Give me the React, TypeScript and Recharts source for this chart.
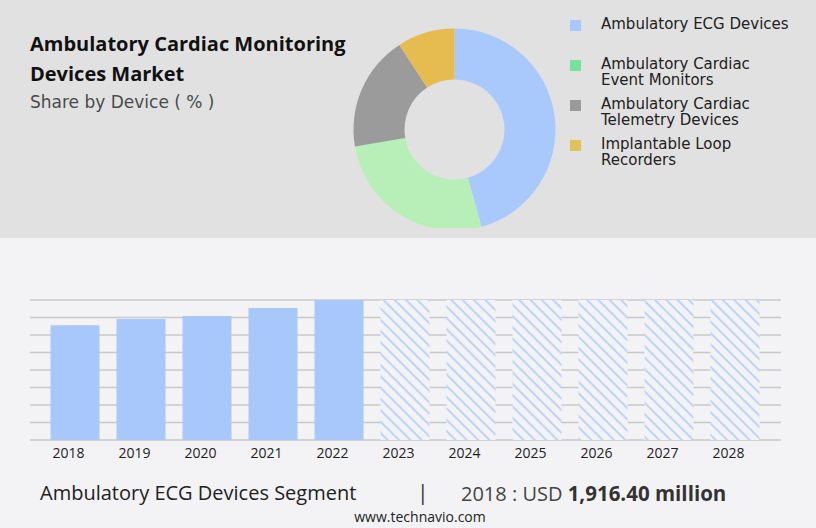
import { BarChart, Bar, XAxis, YAxis, CartesianGrid, PieChart, Pie, Cell } from "recharts";

const devices = [
  "Ambulatory ECG Devices",
  "Ambulatory Cardiac Event Monitors",
  "Ambulatory Cardiac Telemetry Devices",
  "Implantable Loop Recorders",
];
const legendLines = [
  ["Ambulatory ECG Devices"],
  ["Ambulatory Cardiac", "Event Monitors"],
  ["Ambulatory Cardiac", "Telemetry Devices"],
  ["Implantable Loop", "Recorders"],
];
const shares = [45.7, 26.6, 18.5, 9.2];
const sliceColors = ["#a9c9fd", "#b8efb9", "#9b9b9b", "#e6bc50"];
const legendColors = ["#a8c8fc", "#77e39a", "#9a9a9a", "#dfc35a"];

const years = ["2018", "2019", "2020", "2021", "2022", "2023", "2024", "2025", "2026", "2027", "2028"];
const actual = [1916.4, 2019, 2069, 2203, 2336, null, null, null, null, null, null];
const forecast = [null, null, null, null, null, 2336, 2336, 2336, 2336, 2336, 2336];
const yTicks = [0, 292, 584, 876, 1168, 1460, 1752, 2044, 2336];

const pieData = devices.map((name, i) => ({ name, value: shares[i] }));
const barData = years.map((year, i) => ({ year, actual: actual[i], forecast: forecast[i] }));

const sans = "'Open Sans', 'Noto Sans', sans-serif";
const gothic = "'DejaVu Sans', sans-serif";

export default function App() {
  return (
    <div style={{ position: "absolute", left: 0, top: 0, width: 816, height: 528, background: "#f3f3f5", overflow: "hidden", fontFamily: sans }}>
      {/* top panel */}
      <div style={{ position: "absolute", left: 0, top: 0, width: 816, height: 238, background: "#e1e1e1" }} />
      <div style={{ position: "absolute", left: 30, top: 29, fontSize: 20, fontWeight: 700, lineHeight: "30px", color: "#111" }}>
        Ambulatory Cardiac Monitoring<br />Devices Market
      </div>
      <div style={{ position: "absolute", left: 30, top: 92, fontSize: 17, color: "#4a4a4a", fontFamily: gothic }}>
        Share by Device ( % )
      </div>

      <div style={{ position: "absolute", left: 340, top: 0, width: 230, height: 228, overflow: "hidden" }}>
        <PieChart width={230} height={260} margin={{ top: 0, right: 0, bottom: 0, left: 0 }}>
          <Pie
            data={pieData}
            dataKey="value"
            cx={114.5}
            cy={129.5}
            innerRadius={50}
            outerRadius={101}
            startAngle={90}
            endAngle={-270}
            stroke="none"
            isAnimationActive={false}
          >
            {pieData.map((d, i) => (
              <Cell key={d.name} fill={sliceColors[i]} />
            ))}
          </Pie>
        </PieChart>
      </div>

      {legendLines.map((lines, i) => (
        <div key={i} style={{ position: "absolute", left: 570, top: 15 + i * 40, display: "flex", alignItems: "flex-start" }}>
          <div style={{ width: 11, height: 11, background: legendColors[i], marginTop: 5 }} />
          <div style={{ marginLeft: 20, paddingTop: 2, fontSize: 15, lineHeight: "15.5px", color: "#222", fontFamily: gothic }}>
            {lines.map((l) => (
              <div key={l}>{l}</div>
            ))}
          </div>
        </div>
      ))}

      {/* bar chart */}
      <div style={{ position: "absolute", left: 0, top: 280 }}>
        <BarChart width={816} height={190} data={barData} margin={{ top: 20, right: 35, bottom: 0, left: 30 }} barSize={49}>
          <defs>
            <pattern id="hatch" width="8" height="8" patternUnits="userSpaceOnUse" patternTransform="rotate(-45)">
              <rect width="8" height="8" fill="#f3f3f5" />
              <line x1="1" y1="0" x2="1" y2="8" stroke="#a6c6fb" strokeWidth="1.4" />
            </pattern>
          </defs>
          <CartesianGrid horizontal vertical={false} stroke="#c8c8c8" strokeWidth={1.3} />
          <YAxis hide domain={[0, 2336]} ticks={yTicks} interval={0} />
          <XAxis
            dataKey="year"
            axisLine={false}
            tickLine={false}
            padding={{ left: 11.5, right: 13.5 }}
            height={30}
            tick={{ fontSize: 14, fill: "#222", dx: -6, fontFamily: sans }}
            interval={0}
          />
          <Bar dataKey="actual" stackId="a" fill="#a8c8fc" isAnimationActive={false} />
          <Bar dataKey="forecast" stackId="a" fill="url(#hatch)" isAnimationActive={false} />
        </BarChart>
      </div>

      {/* footer */}
      <div style={{ position: "absolute", left: 40, top: 479, fontSize: 20, color: "#222", whiteSpace: "nowrap" }}>
        Ambulatory ECG Devices Segment
      </div>
      <div style={{ position: "absolute", left: 417, top: 478, fontSize: 21, color: "#333" }}>|</div>
      <div style={{ position: "absolute", left: 461, top: 479, fontSize: 20, color: "#444", whiteSpace: "nowrap" }}>
        2018 : USD <span style={{ fontWeight: 700, color: "#333", fontSize: 20.5 }}>1,916.40 million</span>
      </div>
      <div style={{ position: "absolute", left: 0, width: 840, top: 507, textAlign: "center", fontSize: 14, color: "#222" }}>
        www.technavio.com
      </div>
    </div>
  );
}
